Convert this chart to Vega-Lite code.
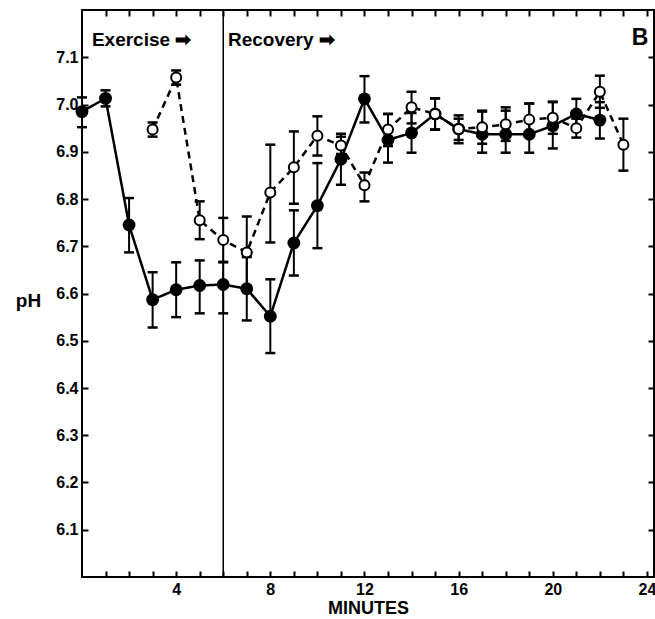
{
  "$schema": "https://vega.github.io/schema/vega-lite/v6.json",
  "width": 572,
  "height": 567,
  "autosize": {"type": "none"},
  "padding": {"left": 82, "top": 10, "right": 1, "bottom": 42},
  "background": "white",
  "config": {
    "view": {"stroke": "black", "strokeWidth": 2},
    "axis": {
      "domain": false,
      "grid": false,
      "tickColor": "black",
      "tickWidth": 2,
      "labelColor": "black",
      "labelFont": "Liberation Sans",
      "labelFontWeight": "bold",
      "labelFontSize": 16,
      "titleFont": "Liberation Sans",
      "titleFontWeight": "bold",
      "titleColor": "black"
    }
  },
  "datasets": {
    "ph": [
      {"min": 0, "series": "filled", "ph": 6.985, "lo": 6.952, "hi": 7.015},
      {"min": 1, "series": "filled", "ph": 7.013, "lo": 6.996, "hi": 7.030},
      {"min": 2, "series": "filled", "ph": 6.745, "lo": 6.687, "hi": 6.802},
      {"min": 3, "series": "filled", "ph": 6.587, "lo": 6.528, "hi": 6.645},
      {"min": 4, "series": "filled", "ph": 6.608, "lo": 6.550, "hi": 6.666},
      {"min": 5, "series": "filled", "ph": 6.617, "lo": 6.558, "hi": 6.670},
      {"min": 6, "series": "filled", "ph": 6.619, "lo": 6.558, "hi": 6.666},
      {"min": 7, "series": "filled", "ph": 6.610, "lo": 6.543, "hi": 6.677},
      {"min": 8, "series": "filled", "ph": 6.552, "lo": 6.474, "hi": 6.630},
      {"min": 9, "series": "filled", "ph": 6.707, "lo": 6.638, "hi": 6.776},
      {"min": 10, "series": "filled", "ph": 6.786, "lo": 6.696, "hi": 6.876},
      {"min": 11, "series": "filled", "ph": 6.884, "lo": 6.830, "hi": 6.938},
      {"min": 12, "series": "filled", "ph": 7.012, "lo": 6.962, "hi": 7.060},
      {"min": 13, "series": "filled", "ph": 6.925, "lo": 6.877, "hi": 6.980},
      {"min": 14, "series": "filled", "ph": 6.940, "lo": 6.898, "hi": 6.982},
      {"min": 15, "series": "filled", "ph": 6.980, "lo": 6.947, "hi": 7.013},
      {"min": 16, "series": "filled", "ph": 6.948, "lo": 6.918, "hi": 6.977},
      {"min": 17, "series": "filled", "ph": 6.937, "lo": 6.898, "hi": 6.985},
      {"min": 18, "series": "filled", "ph": 6.937, "lo": 6.898, "hi": 6.987},
      {"min": 19, "series": "filled", "ph": 6.937, "lo": 6.898, "hi": 7.002},
      {"min": 20, "series": "filled", "ph": 6.955, "lo": 6.907, "hi": 7.005},
      {"min": 21, "series": "filled", "ph": 6.980, "lo": 6.950, "hi": 7.012},
      {"min": 22, "series": "filled", "ph": 6.967, "lo": 6.928, "hi": 7.005},
      {"min": 3, "series": "open", "ph": 6.947, "lo": 6.932, "hi": 6.962},
      {"min": 4, "series": "open", "ph": 7.057, "lo": 7.042, "hi": 7.072},
      {"min": 5, "series": "open", "ph": 6.755, "lo": 6.715, "hi": 6.795},
      {"min": 6, "series": "open", "ph": 6.713, "lo": 6.667, "hi": 6.760},
      {"min": 7, "series": "open", "ph": 6.687, "lo": 6.611, "hi": 6.763},
      {"min": 8, "series": "open", "ph": 6.814, "lo": 6.708, "hi": 6.915},
      {"min": 9, "series": "open", "ph": 6.867, "lo": 6.790, "hi": 6.943},
      {"min": 10, "series": "open", "ph": 6.934, "lo": 6.892, "hi": 6.975},
      {"min": 11, "series": "open", "ph": 6.913, "lo": 6.895, "hi": 6.932},
      {"min": 12, "series": "open", "ph": 6.829, "lo": 6.795, "hi": 6.856},
      {"min": 13, "series": "open", "ph": 6.947, "lo": 6.912, "hi": 6.980},
      {"min": 14, "series": "open", "ph": 6.994, "lo": 6.960, "hi": 7.027},
      {"min": 15, "series": "open", "ph": 6.980, "lo": 6.947, "hi": 7.013},
      {"min": 16, "series": "open", "ph": 6.948, "lo": 6.925, "hi": 6.970},
      {"min": 17, "series": "open", "ph": 6.952, "lo": 6.917, "hi": 6.987},
      {"min": 18, "series": "open", "ph": 6.958, "lo": 6.923, "hi": 6.994},
      {"min": 19, "series": "open", "ph": 6.968, "lo": 6.934, "hi": 7.002},
      {"min": 20, "series": "open", "ph": 6.972, "lo": 6.938, "hi": 7.006},
      {"min": 21, "series": "open", "ph": 6.950, "lo": 6.930, "hi": 6.970},
      {"min": 22, "series": "open", "ph": 7.027, "lo": 6.993, "hi": 7.061},
      {"min": 23, "series": "open", "ph": 6.915, "lo": 6.860, "hi": 6.970}
    ],
    "phases": [
      {"min": 0.42, "ph": 7.137, "label": "Exercise ➡"},
      {"min": 6.2, "ph": 7.137, "label": "Recovery ➡"}
    ],
    "panel": [
      {"min": 23.35, "ph": 7.141, "label": "B"}
    ],
    "divider": [
      {"min": 6}
    ]
  },
  "resolve": {"scale": {"x": "shared", "y": "shared"}, "axis": {"x": "independent", "y": "independent"}},
  "layer": [
    {
      "data": {"name": "divider"},
      "mark": {"type": "rule", "color": "black", "strokeWidth": 1.5},
      "encoding": {
        "x": {"field": "min", "type": "quantitative",
              "scale": {"domain": [0, 24.3], "nice": false, "zero": false},
              "axis": {"orient": "top", "values": [1,2,3,4,5,6,7,8,9,10,11,12,13,14,15,16,17,18,19,20,21,22,23,24],
                       "labels": false, "tickSize": -6, "title": null}}
      }
    },
    {
      "data": {"name": "ph"},
      "mark": {"type": "rule", "color": "black", "strokeWidth": 2},
      "encoding": {
        "x": {"field": "min", "type": "quantitative", "scale": {"domain": [0, 24.3], "nice": false, "zero": false}, "axis": null},
        "y": {"field": "lo", "type": "quantitative", "scale": {"domain": [6.0, 7.2], "nice": false, "zero": false}, "axis": null},
        "y2": {"field": "hi"}
      }
    },
    {
      "data": {"name": "ph"},
      "mark": {"type": "tick", "orient": "horizontal", "color": "black", "size": 10, "thickness": 2.5, "opacity": 1},
      "encoding": {
        "x": {"field": "min", "type": "quantitative", "scale": {"domain": [0, 24.3], "nice": false, "zero": false}, "axis": null},
        "y": {"field": "lo", "type": "quantitative", "scale": {"domain": [6.0, 7.2], "nice": false, "zero": false}, "axis": null}
      }
    },
    {
      "data": {"name": "ph"},
      "mark": {"type": "tick", "orient": "horizontal", "color": "black", "size": 10, "thickness": 2.5, "opacity": 1},
      "encoding": {
        "x": {"field": "min", "type": "quantitative", "scale": {"domain": [0, 24.3], "nice": false, "zero": false}, "axis": null},
        "y": {"field": "hi", "type": "quantitative", "scale": {"domain": [6.0, 7.2], "nice": false, "zero": false}, "axis": null}
      }
    },
    {
      "data": {"name": "ph"},
      "mark": {"type": "line", "color": "black", "strokeWidth": 2.5},
      "encoding": {
        "x": {"field": "min", "type": "quantitative",
              "scale": {"domain": [0, 24.3], "nice": false, "zero": false},
              "axis": {"orient": "bottom", "values": [1,2,3,4,5,6,7,8,9,10,11,12,13,14,15,16,17,18,19,20,21,22,23,24],
                       "tickSize": -6, "labelPadding": 10,
                       "labelExpr": "datum.value % 4 === 0 ? datum.value : ''",
                       "title": "MINUTES", "titleFontSize": 18, "titlePadding": 2}},
        "y": {"field": "ph", "type": "quantitative",
              "scale": {"domain": [6.0, 7.2], "nice": false, "zero": false},
              "axis": {"orient": "left", "values": [6.1,6.2,6.3,6.4,6.5,6.6,6.7,6.8,6.9,7.0,7.1],
                       "format": ".1f", "tickSize": -6, "labelPadding": 10,
                       "title": "pH", "titleAngle": 0, "titleFontSize": 19,
                       "titleX": -54, "titleY": 290, "titleAlign": "center", "titleBaseline": "middle"}},
        "detail": {"field": "series"},
        "strokeDash": {"field": "series", "type": "nominal",
                       "scale": {"domain": ["filled", "open"], "range": [[1, 0], [7, 5]]}, "legend": null}
      }
    },
    {
      "data": {"name": "ph"},
      "transform": [{"filter": "datum.series === 'filled'"}],
      "mark": {"type": "point", "shape": "circle", "filled": true, "color": "black", "size": 165, "opacity": 1},
      "encoding": {
        "x": {"field": "min", "type": "quantitative", "scale": {"domain": [0, 24.3], "nice": false, "zero": false}, "axis": null},
        "y": {"field": "ph", "type": "quantitative", "scale": {"domain": [6.0, 7.2], "nice": false, "zero": false}, "axis": null}
      }
    },
    {
      "data": {"name": "ph"},
      "transform": [{"filter": "datum.series === 'open'"}],
      "mark": {"type": "point", "shape": "circle", "filled": true, "fill": "white", "stroke": "black", "strokeWidth": 2, "size": 100, "opacity": 1},
      "encoding": {
        "x": {"field": "min", "type": "quantitative", "scale": {"domain": [0, 24.3], "nice": false, "zero": false}, "axis": null},
        "y": {"field": "ph", "type": "quantitative", "scale": {"domain": [6.0, 7.2], "nice": false, "zero": false}, "axis": null}
      }
    },
    {
      "data": {"name": "phases"},
      "mark": {"type": "text", "align": "left", "baseline": "middle", "font": "Liberation Sans", "fontWeight": "bold", "fontSize": 19, "color": "black"},
      "encoding": {
        "x": {"field": "min", "type": "quantitative", "scale": {"domain": [0, 24.3], "nice": false, "zero": false}, "axis": null},
        "y": {"field": "ph", "type": "quantitative",
              "scale": {"domain": [6.0, 7.2], "nice": false, "zero": false},
              "axis": {"orient": "right", "values": [6.1,6.2,6.3,6.4,6.5,6.6,6.7,6.8,6.9,7.0,7.1],
                       "labels": false, "tickSize": -6, "title": null}},
        "text": {"field": "label"}
      }
    },
    {
      "data": {"name": "panel"},
      "mark": {"type": "text", "align": "left", "baseline": "middle", "font": "Liberation Sans", "fontWeight": "bold", "fontSize": 23, "color": "black"},
      "encoding": {
        "x": {"field": "min", "type": "quantitative", "scale": {"domain": [0, 24.3], "nice": false, "zero": false}, "axis": null},
        "y": {"field": "ph", "type": "quantitative", "scale": {"domain": [6.0, 7.2], "nice": false, "zero": false}, "axis": null},
        "text": {"field": "label"}
      }
    }
  ]
}
